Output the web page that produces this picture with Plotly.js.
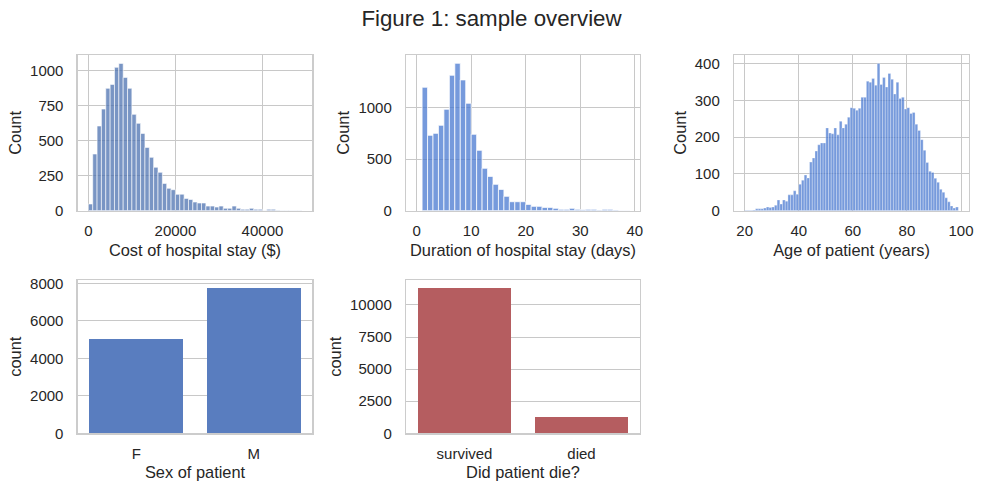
<!DOCTYPE html>
<html><head><meta charset="utf-8">
<script src="https://cdn.plot.ly/plotly-3.0.1.min.js"></script>
<style>html,body{margin:0;padding:0;background:#fff}#chart{width:983px;height:492px}</style>
</head><body><div id="chart"></div>
<script>
// ---------- data ----------
const costBinStart = 0, costBinWidth = 1000;
const costCounts = [48,405,605,726,874,902,1024,1052,952,874,
  688,624,552,452,381,310,274,195,160,150,
  117,118,88,80,62,55,55,33,33,26,
  33,17,17,33,17,10,10,17,10,10,
  2,10,10,3,2,2,1,1,1];

const durationBinStart = 1, durationBinWidth = 1;
const durationCounts = [1194,729,748,826,981,1310,1426,1265,1039,739,
  584,410,332,255,206,139,87,87,87,61,
  42,42,32,32,23,13,13,23,13,10,
  13,13,6,13,13,6,3,3];

const ageBinStart = 20, ageBinWidth = 1;
const ageCounts = [1,1,1,2,5,5,5,7,10,9,
  10,15,29,18,29,26,43,43,54,45,
  72,83,97,89,132,143,162,179,184,184,
  225,211,209,225,206,243,225,235,254,280,
  278,273,278,308,308,352,349,359,341,400,
  343,362,336,373,357,317,349,305,308,276,
  280,264,267,235,218,193,164,131,107,104,
  88,77,58,50,35,24,13,7,10];

const sexCategories = ['F','M'];
const sexCounts = [5030, 7760];
const diedCategories = ['survived','died'];
const diedCounts = [11320, 1280];

const costTicks = [0,20000,40000];
const countTicks1 = [0,250,500,750,1000];
const durationTicks = [0,10,20,30,40];
const countTicks2 = [0,500,1000];
const ageTicks = [20,40,60,80,100];
const countTicks3 = [0,100,200,300,400];
const sexCountTicks = [0,2000,4000,6000,8000];
const diedCountTicks = [0,2500,5000,7500,10000];

// ---------- helpers ----------
function binEdges(start, w, n){ const a=[]; for(let i=0;i<n;i++) a.push(start+i*w); return a; }
const FONT = 'Liberation Sans, Arial, Helvetica, sans-serif';
const TXT = '#262626';
const W = 983, H = 492;
function dx(a,b){ return [a/W, b/W]; }
function dy(top,bottom){ return [1-bottom/H, 1-top/H]; }

function ax(extra){
  return Object.assign({
    showline:true, mirror:true, linecolor:'#cccccc', linewidth:1.25,
    showgrid:true, gridcolor:'#c8c8c8', gridwidth:1, zeroline:false,
    ticks:'', tickfont:{family:FONT,size:15,color:TXT},
    automargin:false, fixedrange:true
  }, extra);
}
function ttl(t, standoff){ return {text:t, font:{family:FONT,size:16.4,color:TXT}, standoff:standoff}; }

const traces = [
  {type:'bar', x:binEdges(costBinStart,costBinWidth,costCounts.length), y:costCounts,
   width:costBinWidth, offset:0, xaxis:'x', yaxis:'y',
   marker:{color:'rgba(76,114,176,0.75)', line:{color:'rgba(255,255,255,0.75)', width:0.8}},
   hoverinfo:'x+y', showlegend:false},
  {type:'bar', x:binEdges(durationBinStart,durationBinWidth,durationCounts.length), y:durationCounts,
   width:durationBinWidth, offset:0, xaxis:'x2', yaxis:'y2',
   marker:{color:'rgba(72,120,208,0.75)', line:{color:'rgba(255,255,255,0.75)', width:1}},
   hoverinfo:'x+y', showlegend:false},
  {type:'bar', x:binEdges(ageBinStart,ageBinWidth,ageCounts.length), y:ageCounts,
   width:ageBinWidth, offset:0, xaxis:'x3', yaxis:'y3',
   marker:{color:'rgba(72,120,208,0.75)', line:{color:'rgba(255,255,255,0.6)', width:0.5}},
   hoverinfo:'x+y', showlegend:false},
  {type:'bar', x:sexCategories, y:sexCounts, width:0.8, xaxis:'x4', yaxis:'y4',
   marker:{color:'#597dbf', line:{width:0}}, showlegend:false},
  {type:'bar', x:diedCategories, y:diedCounts, width:0.8, xaxis:'x5', yaxis:'y5',
   marker:{color:'#b55d60', line:{width:0}}, showlegend:false}
];

const layout = {
  width:W, height:H, margin:{l:0,r:0,t:0,b:0}, paper_bgcolor:'#fff', plot_bgcolor:'#fff',
  font:{family:FONT, color:TXT},
  showlegend:false, bargap:0,
  title:{text:'Figure 1: sample overview', font:{family:FONT,size:22.3,color:TXT},
    x:0.5, xanchor:'center', y:1-18.5/H, yanchor:'middle', xref:'paper', yref:'container'},
  xaxis: ax({domain:dx(77.7,312.3), anchor:'y', range:[-2450,51450], tickvals:costTicks, tickformat:'d', ticklabelstandoff:6, title:ttl('Cost of hospital stay ($)',6)}),
  yaxis: ax({domain:dy(55,210.7), anchor:'x', range:[0,1112], tickvals:countTicks1, tickformat:'d', ticklabelstandoff:10, title:ttl('Count',4)}),
  xaxis2: ax({domain:dx(406,640), anchor:'y2', range:[-1.95,40.95], tickvals:durationTicks, ticklabelstandoff:6, title:ttl('Duration of hospital stay (days)',6)}),
  yaxis2: ax({domain:dy(55,210.7), anchor:'x2', range:[0,1506], tickvals:countTicks2, tickformat:'d', ticklabelstandoff:10, title:ttl('Count',4)}),
  xaxis3: ax({domain:dx(734,969), anchor:'y3', range:[16.05,102.95], tickvals:ageTicks, ticklabelstandoff:6, title:ttl('Age of patient (years)',6)}),
  yaxis3: ax({domain:dy(55,210.7), anchor:'x3', range:[0,423], tickvals:countTicks3, ticklabelstandoff:10, title:ttl('Count',4)}),
  xaxis4: ax({domain:dx(77.7,312.3), anchor:'y4', type:'category', range:[-0.5,1.5], showgrid:false, ticklabelstandoff:6, title:ttl('Sex of patient',6)}),
  yaxis4: ax({domain:dy(280,433.3), anchor:'x4', range:[0,8176], tickvals:sexCountTicks, tickformat:'d', ticklabelstandoff:10, title:ttl('count',4)}),
  xaxis5: ax({domain:dx(406,640), anchor:'y5', type:'category', range:[-0.5,1.5], showgrid:false, ticklabelstandoff:6, title:ttl('Did patient die?',6)}),
  yaxis5: ax({domain:dy(280,433.3), anchor:'x5', range:[0,11942], tickvals:diedCountTicks, tickformat:'d', ticklabelstandoff:10, title:ttl('count',4)})
};

Plotly.newPlot('chart', traces, layout, {staticPlot:true, displayModeBar:false});
</script>
</body></html>
